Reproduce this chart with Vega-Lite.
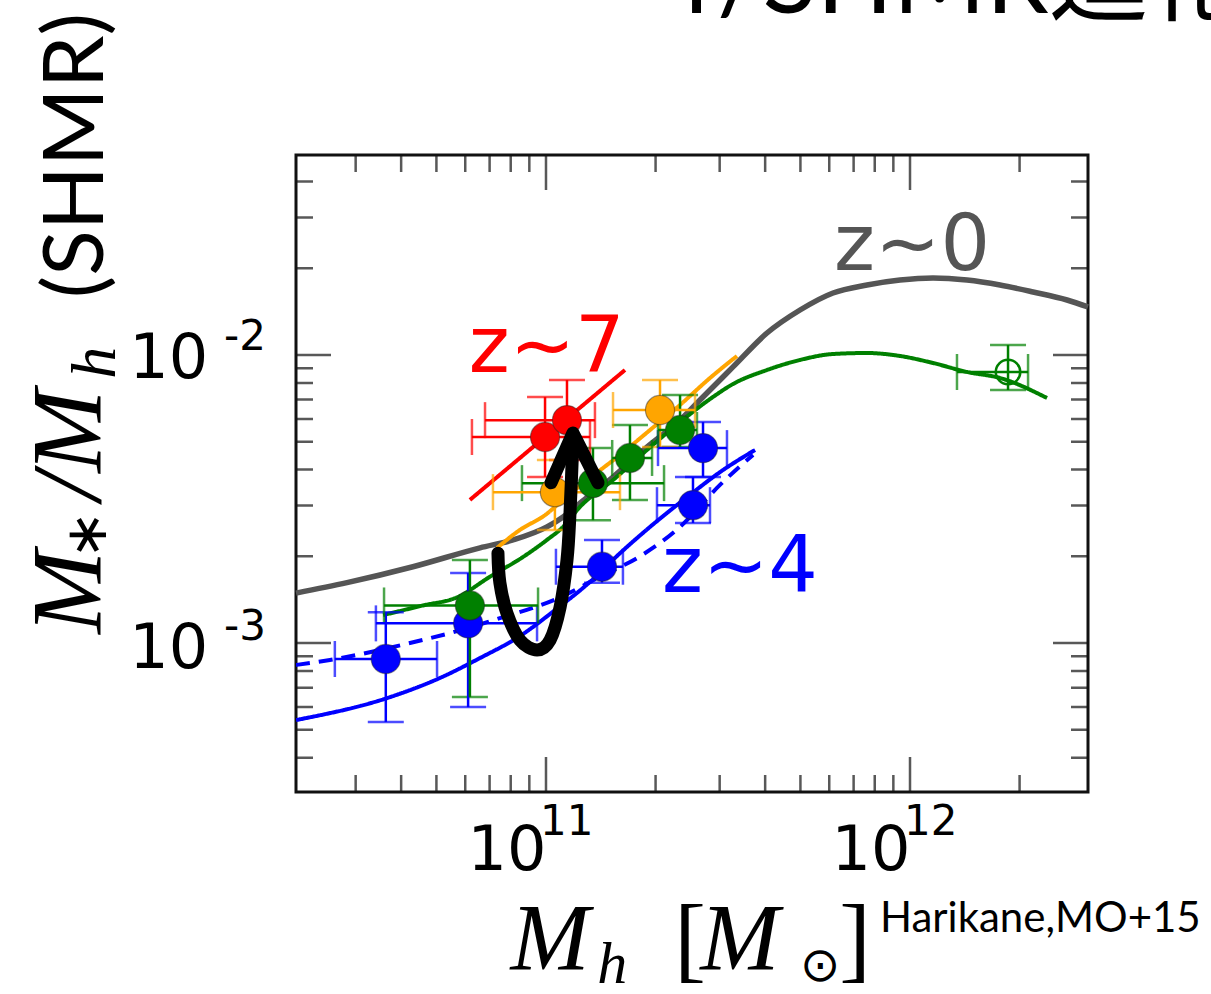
{
  "$schema": "https://vega.github.io/schema/vega-lite/v6.json",
  "width": 792,
  "height": 637,
  "autosize": {"type": "none"},
  "padding": {"left": 296, "top": 155, "right": 123, "bottom": 202},
  "background": "white",
  "config": {
    "view": {"stroke": "#111111", "strokeWidth": 3}
  },
  "datasets": {
    "curves": [
      {"z": "z~0", "model": "fit", "x": 2.057e10, "y": 1.49e-3},
      {"z": "z~0", "model": "fit", "x": 2.84e10, "y": 1.62e-3},
      {"z": "z~0", "model": "fit", "x": 4.31e10, "y": 1.84e-3},
      {"z": "z~0", "model": "fit", "x": 6.59e10, "y": 2.14e-3},
      {"z": "z~0", "model": "fit", "x": 8.12e10, "y": 2.28e-3},
      {"z": "z~0", "model": "fit", "x": 1.006e11, "y": 2.53e-3},
      {"z": "z~0", "model": "fit", "x": 1.114e11, "y": 2.74e-3},
      {"z": "z~0", "model": "fit", "x": 1.24e11, "y": 3.06e-3},
      {"z": "z~0", "model": "fit", "x": 1.528e11, "y": 3.77e-3},
      {"z": "z~0", "model": "fit", "x": 1.894e11, "y": 4.79e-3},
      {"z": "z~0", "model": "fit", "x": 2.335e11, "y": 5.94e-3},
      {"z": "z~0", "model": "fit", "x": 2.649e11, "y": 6.98e-3},
      {"z": "z~0", "model": "fit", "x": 3.264e11, "y": 9.09e-3},
      {"z": "z~0", "model": "fit", "x": 4.047e11, "y": 1.192e-2},
      {"z": "z~0", "model": "fit", "x": 4.988e11, "y": 1.433e-2},
      {"z": "z~0", "model": "fit", "x": 6.145e11, "y": 1.642e-2},
      {"z": "z~0", "model": "fit", "x": 7.619e11, "y": 1.75e-2},
      {"z": "z~0", "model": "fit", "x": 9.39e11, "y": 1.821e-2},
      {"z": "z~0", "model": "fit", "x": 1.157e12, "y": 1.851e-2},
      {"z": "z~0", "model": "fit", "x": 1.434e12, "y": 1.821e-2},
      {"z": "z~0", "model": "fit", "x": 1.767e12, "y": 1.75e-2},
      {"z": "z~0", "model": "fit", "x": 2.178e12, "y": 1.655e-2},
      {"z": "z~0", "model": "fit", "x": 2.7e12, "y": 1.552e-2},
      {"z": "z~0", "model": "fit", "x": 3.083e12, "y": 1.468e-2},
      {"z": "z~5", "model": "fit", "x": 3.57e10, "y": 1.25e-3},
      {"z": "z~5", "model": "fit", "x": 4.59e10, "y": 1.35e-3},
      {"z": "z~5", "model": "fit", "x": 5.69e10, "y": 1.44e-3},
      {"z": "z~5", "model": "fit", "x": 7.02e10, "y": 1.7e-3},
      {"z": "z~5", "model": "fit", "x": 8.65e10, "y": 1.99e-3},
      {"z": "z~5", "model": "fit", "x": 1.006e11, "y": 2.28e-3},
      {"z": "z~5", "model": "fit", "x": 1.114e11, "y": 2.53e-3},
      {"z": "z~5", "model": "fit", "x": 1.24e11, "y": 2.97e-3},
      {"z": "z~5", "model": "fit", "x": 1.528e11, "y": 3.68e-3},
      {"z": "z~5", "model": "fit", "x": 1.894e11, "y": 4.68e-3},
      {"z": "z~5", "model": "fit", "x": 2.335e11, "y": 5.85e-3},
      {"z": "z~5", "model": "fit", "x": 2.876e11, "y": 7.15e-3},
      {"z": "z~5", "model": "fit", "x": 3.264e11, "y": 7.93e-3},
      {"z": "z~5", "model": "fit", "x": 4.047e11, "y": 8.87e-3},
      {"z": "z~5", "model": "fit", "x": 4.988e11, "y": 9.61e-3},
      {"z": "z~5", "model": "fit", "x": 6.145e11, "y": 1.008e-2},
      {"z": "z~5", "model": "fit", "x": 7.619e11, "y": 1.016e-2},
      {"z": "z~5", "model": "fit", "x": 9.39e11, "y": 9.92e-3},
      {"z": "z~5", "model": "fit", "x": 1.157e12, "y": 9.38e-3},
      {"z": "z~5", "model": "fit", "x": 1.434e12, "y": 8.73e-3},
      {"z": "z~5", "model": "fit", "x": 1.767e12, "y": 8.32e-3},
      {"z": "z~5", "model": "fit", "x": 2.379e12, "y": 7.09e-3},
      {"z": "z~6", "model": "fit", "x": 7.34e10, "y": 2.14e-3},
      {"z": "z~6", "model": "fit", "x": 8.48e10, "y": 2.47e-3},
      {"z": "z~6", "model": "fit", "x": 9.94e10, "y": 2.78e-3},
      {"z": "z~6", "model": "fit", "x": 1.128e11, "y": 3.19e-3},
      {"z": "z~6", "model": "fit", "x": 1.321e11, "y": 3.74e-3},
      {"z": "z~6", "model": "fit", "x": 1.597e11, "y": 4.5e-3},
      {"z": "z~6", "model": "fit", "x": 1.931e11, "y": 5.49e-3},
      {"z": "z~6", "model": "fit", "x": 2.335e11, "y": 6.71e-3},
      {"z": "z~6", "model": "fit", "x": 2.822e11, "y": 8.32e-3},
      {"z": "z~6", "model": "fit", "x": 3.347e11, "y": 9.92e-3},
      {"z": "z~7", "model": "fit", "x": 6.18e10, "y": 3.14e-3},
      {"z": "z~7", "model": "fit", "x": 1.648e11, "y": 8.87e-3},
      {"z": "z~4", "model": "fit", "x": 2.057e10, "y": 5.4e-4},
      {"z": "z~4", "model": "fit", "x": 3.73e10, "y": 6.49e-4},
      {"z": "z~4", "model": "fit", "x": 5.11e10, "y": 7.56e-4},
      {"z": "z~4", "model": "fit", "x": 6.59e10, "y": 8.87e-4},
      {"z": "z~4", "model": "fit", "x": 8.48e10, "y": 1.057e-3},
      {"z": "z~4", "model": "fit", "x": 1.058e11, "y": 1.3e-3},
      {"z": "z~4", "model": "fit", "x": 1.321e11, "y": 1.63e-3},
      {"z": "z~4", "model": "fit", "x": 1.597e11, "y": 2.05e-3},
      {"z": "z~4", "model": "fit", "x": 1.931e11, "y": 2.53e-3},
      {"z": "z~4", "model": "fit", "x": 2.487e11, "y": 3.27e-3},
      {"z": "z~4", "model": "fit", "x": 3.006e11, "y": 3.92e-3},
      {"z": "z~4", "model": "fit", "x": 3.752e11, "y": 4.68e-3},
      {"z": "z~4", "model": "alt", "x": 2.057e10, "y": 8.39e-4},
      {"z": "z~4", "model": "alt", "x": 2.55e10, "y": 8.73e-4},
      {"z": "z~4", "model": "alt", "x": 4.23e10, "y": 1.0e-3},
      {"z": "z~4", "model": "alt", "x": 5.45e10, "y": 1.083e-3},
      {"z": "z~4", "model": "alt", "x": 7.47e10, "y": 1.22e-3},
      {"z": "z~4", "model": "alt", "x": 1.093e11, "y": 1.44e-3},
      {"z": "z~4", "model": "alt", "x": 1.407e11, "y": 1.7e-3},
      {"z": "z~4", "model": "alt", "x": 1.812e11, "y": 2.0e-3},
      {"z": "z~4", "model": "alt", "x": 2.335e11, "y": 2.53e-3},
      {"z": "z~4", "model": "alt", "x": 3.006e11, "y": 3.54e-3},
      {"z": "z~4", "model": "alt", "x": 3.705e11, "y": 4.5e-3}
    ],
    "pts": [
      {"z": "z~4", "src": "H15", "x": 3.63e10, "y": 8.8e-4, "xlo": 2.63e10, "xhi": 5.02e10, "ylo": 5.32e-4, "yhi": 1.28e-3},
      {"z": "z~4", "src": "H15", "x": 6.11e10, "y": 1.17e-3, "xlo": 3.41e10, "xhi": 9.45e10, "ylo": 5.99e-4, "yhi": 1.75e-3},
      {"z": "z~4", "src": "H15", "x": 1.425e11, "y": 1.84e-3, "xlo": 1.065e11, "xhi": 1.627e11, "ylo": 1.62e-3, "yhi": 2.28e-3},
      {"z": "z~4", "src": "H15", "x": 2.534e11, "y": 3.01e-3, "xlo": 2.018e11, "xhi": 2.822e11, "ylo": 2.61e-3, "yhi": 3.77e-3},
      {"z": "z~4", "src": "H15", "x": 2.7e11, "y": 4.75e-3, "xlo": 2.031e11, "xhi": 3.142e11, "ylo": 3.77e-3, "yhi": 5.85e-3},
      {"z": "z~5", "src": "H15", "x": 6.18e10, "y": 1.35e-3, "xlo": 3.59e10, "xhi": 9.51e10, "ylo": 6.49e-4, "yhi": 1.94e-3},
      {"z": "z~5", "src": "H15", "x": 1.346e11, "y": 3.59e-3, "xlo": 8.59e10, "xhi": 2.11e11, "ylo": 2.67e-3, "yhi": 4.75e-3},
      {"z": "z~5", "src": "H15", "x": 1.701e11, "y": 4.39e-3, "xlo": 1.52e11, "xhi": 1.956e11, "ylo": 3.14e-3, "yhi": 5.71e-3},
      {"z": "z~5", "src": "H15", "x": 2.335e11, "y": 5.49e-3, "xlo": 2.031e11, "xhi": 2.599e11, "ylo": 4.79e-3, "yhi": 7.26e-3},
      {"z": "z~5", "src": "local", "x": 1.859e12, "y": 8.73e-3, "xlo": 1.346e12, "xhi": 2.11e12, "ylo": 7.56e-3, "yhi": 1.083e-2},
      {"z": "z~6", "src": "H15", "x": 1.058e11, "y": 3.34e-3, "xlo": 7.15e10, "xhi": 1.597e11, "ylo": 2.47e-3, "yhi": 4.32e-3},
      {"z": "z~6", "src": "H15", "x": 2.057e11, "y": 6.44e-3, "xlo": 1.528e11, "xhi": 2.567e11, "ylo": 4.79e-3, "yhi": 8.19e-3},
      {"z": "z~7", "src": "H15", "x": 9.94e10, "y": 5.19e-3, "xlo": 6.26e10, "xhi": 1.321e11, "ylo": 3.77e-3, "yhi": 7.15e-3},
      {"z": "z~7", "src": "H15", "x": 1.142e11, "y": 5.94e-3, "xlo": 6.8e10, "xhi": 1.363e11, "ylo": 4.32e-3, "yhi": 8.19e-3}
    ],
    "arrow": [
      {"part": "stem", "i": 1, "x": 7.38e10, "y": 2.05e-3},
      {"part": "stem", "i": 2, "x": 7.47e10, "y": 1.62e-3},
      {"part": "stem", "i": 3, "x": 7.81e10, "y": 1.27e-3},
      {"part": "stem", "i": 4, "x": 8.48e10, "y": 1.024e-3},
      {"part": "stem", "i": 5, "x": 9.45e10, "y": 9.46e-4},
      {"part": "stem", "i": 6, "x": 1.026e11, "y": 1.024e-3},
      {"part": "stem", "i": 7, "x": 1.093e11, "y": 1.33e-3},
      {"part": "stem", "i": 8, "x": 1.142e11, "y": 1.94e-3},
      {"part": "stem", "i": 9, "x": 1.164e11, "y": 2.83e-3},
      {"part": "stem", "i": 10, "x": 1.186e11, "y": 5.07e-3},
      {"part": "head", "i": 1, "x": 1.032e11, "y": 3.6e-3},
      {"part": "head", "i": 2, "x": 1.186e11, "y": 5.36e-3},
      {"part": "head", "i": 3, "x": 1.39e11, "y": 3.6e-3}
    ],
    "xt": [
      {"v": 3e10, "kind": "minor"}, {"v": 4e10, "kind": "minor"}, {"v": 5e10, "kind": "minor"},
      {"v": 6e10, "kind": "minor"}, {"v": 7e10, "kind": "minor"}, {"v": 8e10, "kind": "minor"},
      {"v": 9e10, "kind": "minor"}, {"v": 1e11, "kind": "major"}, {"v": 2e11, "kind": "minor"},
      {"v": 3e11, "kind": "minor"}, {"v": 4e11, "kind": "minor"}, {"v": 5e11, "kind": "minor"},
      {"v": 6e11, "kind": "minor"}, {"v": 7e11, "kind": "minor"}, {"v": 8e11, "kind": "minor"},
      {"v": 9e11, "kind": "minor"}, {"v": 1e12, "kind": "major"}, {"v": 2e12, "kind": "minor"}
    ],
    "yt": [
      {"v": 4e-4, "kind": "minor"}, {"v": 5e-4, "kind": "minor"}, {"v": 6e-4, "kind": "minor"},
      {"v": 7e-4, "kind": "minor"}, {"v": 8e-4, "kind": "minor"}, {"v": 9e-4, "kind": "minor"},
      {"v": 1e-3, "kind": "major"}, {"v": 2e-3, "kind": "minor"}, {"v": 3e-3, "kind": "minor"},
      {"v": 4e-3, "kind": "minor"}, {"v": 5e-3, "kind": "minor"}, {"v": 6e-3, "kind": "minor"},
      {"v": 7e-3, "kind": "minor"}, {"v": 8e-3, "kind": "minor"}, {"v": 9e-3, "kind": "minor"},
      {"v": 1e-2, "kind": "major"}, {"v": 2e-2, "kind": "minor"}, {"v": 3e-2, "kind": "minor"},
      {"v": 4e-2, "kind": "minor"}
    ],
    "ticklabels": [
      {"part": "base", "text": "10", "x": 7.81e10, "y": 1.63e-4},
      {"part": "exp", "text": "11", "x": 1.14e11, "y": 2.154e-4},
      {"part": "base", "text": "10", "x": 7.81e11, "y": 1.63e-4},
      {"part": "exp", "text": "12", "x": 1.14e12, "y": 2.154e-4},
      {"part": "base", "text": "10", "x": 9.2e9, "y": 8.32e-3},
      {"part": "exp", "text": "-2", "x": 1.49e10, "y": 1.041e-2},
      {"part": "base", "text": "10", "x": 9.2e9, "y": 8.19e-4},
      {"part": "exp", "text": "-3", "x": 1.49e10, "y": 1.024e-3}
    ],
    "zlabels": [
      {"z": "z~0", "label": "z~0", "x": 1.013e12, "y": 1.973e-2},
      {"z": "z~7", "label": "z~7", "x": 1.005e11, "y": 8.73e-3},
      {"z": "z~4", "label": "z~4", "x": 3.41e11, "y": 1.5e-3}
    ]
  },
  "layer": [
    {
      "data": {"name": "curves"},
      "transform": [{"filter": "datum.z === 'z~0'"}],
      "mark": {"type": "line", "strokeWidth": 5.5, "interpolate": "monotone"},
      "encoding": {
        "x": {"field": "x", "type": "quantitative", "scale": {"type": "log", "domain": [2.057e10, 3.083e12], "nice": false}, "axis": null},
        "y": {"field": "y", "type": "quantitative", "scale": {"type": "log", "domain": [3.039e-4, 0.04947], "nice": false}, "axis": null},
        "color": {"field": "z", "type": "nominal", "scale": {"domain": ["z~0", "z~4", "z~5", "z~6", "z~7"], "range": ["#555555", "#0000ff", "#008000", "#ffa500", "#ff0000"]}, "legend": null}
      }
    },
    {
      "data": {"name": "curves"},
      "transform": [{"filter": "datum.z !== 'z~0'"}],
      "mark": {"type": "line", "strokeWidth": 4, "interpolate": "monotone", "clip": true},
      "encoding": {
        "x": {"field": "x", "type": "quantitative", "axis": null},
        "y": {"field": "y", "type": "quantitative", "axis": null},
        "color": {"field": "z", "type": "nominal", "legend": null},
        "strokeDash": {"field": "model", "type": "nominal", "scale": {"domain": ["fit", "alt"], "range": [[1, 0], [14, 9]]}, "legend": null}
      }
    },
    {
      "data": {"name": "pts"},
      "mark": {"type": "errorbar", "ticks": true, "size": 36, "thickness": 2.5},
      "encoding": {
        "x": {"field": "x", "type": "quantitative", "axis": null},
        "y": {"field": "ylo", "type": "quantitative", "axis": null},
        "y2": {"field": "yhi"},
        "color": {"field": "z", "type": "nominal", "legend": null}
      }
    },
    {
      "data": {"name": "pts"},
      "mark": {"type": "errorbar", "ticks": true, "size": 36, "thickness": 2.5},
      "encoding": {
        "y": {"field": "y", "type": "quantitative", "axis": null},
        "x": {"field": "xlo", "type": "quantitative", "axis": null},
        "x2": {"field": "xhi"},
        "color": {"field": "z", "type": "nominal", "legend": null}
      }
    },
    {
      "data": {"name": "pts"},
      "transform": [{"filter": "datum.src === 'H15'"}],
      "mark": {"type": "point", "shape": "circle", "filled": true, "size": 850, "opacity": 1, "stroke": "#222222", "strokeWidth": 1.2, "strokeOpacity": 0.45},
      "encoding": {
        "x": {"field": "x", "type": "quantitative", "axis": null},
        "y": {"field": "y", "type": "quantitative", "axis": null},
        "fill": {"field": "z", "type": "nominal", "scale": {"domain": ["z~0", "z~4", "z~5", "z~6", "z~7"], "range": ["#555555", "#0000ff", "#008000", "#ffa500", "#ff0000"]}, "legend": null}
      }
    },
    {
      "data": {"name": "pts"},
      "transform": [{"filter": "datum.src === 'local'"}],
      "mark": {"type": "point", "shape": "circle", "filled": false, "size": 600, "strokeWidth": 2.5, "opacity": 1},
      "encoding": {
        "x": {"field": "x", "type": "quantitative", "axis": null},
        "y": {"field": "y", "type": "quantitative", "axis": null},
        "color": {"field": "z", "type": "nominal", "legend": null}
      }
    },
    {
      "data": {"name": "arrow"},
      "transform": [{"filter": "datum.part === 'stem'"}],
      "mark": {"type": "line", "color": "#000000", "strokeWidth": 13, "strokeCap": "round", "strokeJoin": "round", "interpolate": "cardinal"},
      "encoding": {
        "x": {"field": "x", "type": "quantitative", "axis": null},
        "y": {"field": "y", "type": "quantitative", "axis": null},
        "order": {"field": "i", "type": "quantitative"}
      }
    },
    {
      "data": {"name": "arrow"},
      "transform": [{"filter": "datum.part === 'head'"}],
      "mark": {"type": "line", "color": "#000000", "strokeWidth": 13, "strokeCap": "round", "strokeJoin": "round"},
      "encoding": {
        "x": {"field": "x", "type": "quantitative", "axis": null},
        "y": {"field": "y", "type": "quantitative", "axis": null},
        "order": {"field": "i", "type": "quantitative"}
      }
    },
    {
      "data": {"name": "xt"},
      "mark": {"type": "tick", "orient": "vertical", "clip": true, "thickness": 2.5, "color": "#111111"},
      "encoding": {
        "x": {"field": "v", "type": "quantitative", "axis": null},
        "y": {"datum": 3.039e-4, "type": "quantitative", "axis": null},
        "size": {"field": "kind", "type": "nominal", "scale": {"domain": ["major", "minor"], "range": [70, 34]}, "legend": null}
      }
    },
    {
      "data": {"name": "xt"},
      "mark": {"type": "tick", "orient": "vertical", "clip": true, "thickness": 2.5, "color": "#111111"},
      "encoding": {
        "x": {"field": "v", "type": "quantitative", "axis": null},
        "y": {"datum": 0.04947, "type": "quantitative", "axis": null},
        "size": {"field": "kind", "type": "nominal", "legend": null}
      }
    },
    {
      "data": {"name": "yt"},
      "mark": {"type": "tick", "orient": "horizontal", "clip": true, "thickness": 2.5, "color": "#111111"},
      "encoding": {
        "y": {"field": "v", "type": "quantitative", "axis": null},
        "x": {"datum": 2.057e10, "type": "quantitative", "axis": null},
        "size": {"field": "kind", "type": "nominal", "legend": null}
      }
    },
    {
      "data": {"name": "yt"},
      "mark": {"type": "tick", "orient": "horizontal", "clip": true, "thickness": 2.5, "color": "#111111"},
      "encoding": {
        "y": {"field": "v", "type": "quantitative", "axis": null},
        "x": {"datum": 3.083e12, "type": "quantitative", "axis": null},
        "size": {"field": "kind", "type": "nominal", "legend": null}
      }
    },
    {
      "data": {"name": "ticklabels"},
      "transform": [{"filter": "datum.part === 'base'"}],
      "mark": {"type": "text", "font": "DejaVu Sans", "fontSize": 62, "align": "center", "baseline": "alphabetic", "color": "#000000"},
      "encoding": {
        "x": {"field": "x", "type": "quantitative", "axis": null},
        "y": {"field": "y", "type": "quantitative", "axis": null},
        "text": {"field": "text", "type": "nominal"}
      }
    },
    {
      "data": {"name": "ticklabels"},
      "transform": [{"filter": "datum.part === 'exp'"}],
      "mark": {"type": "text", "font": "DejaVu Sans", "fontSize": 42, "align": "center", "baseline": "alphabetic", "color": "#000000"},
      "encoding": {
        "x": {"field": "x", "type": "quantitative", "axis": null},
        "y": {"field": "y", "type": "quantitative", "axis": null},
        "text": {"field": "text", "type": "nominal"}
      }
    },
    {
      "data": {"name": "zlabels"},
      "mark": {"type": "text", "font": "DejaVu Sans", "fontSize": 78, "align": "center", "baseline": "alphabetic"},
      "encoding": {
        "x": {"field": "x", "type": "quantitative", "axis": null},
        "y": {"field": "y", "type": "quantitative", "axis": null},
        "text": {"field": "label", "type": "nominal"},
        "color": {"field": "z", "type": "nominal", "legend": null}
      }
    },
    {
      "data": {"values": [{}]},
      "layer": [
        {"mark": {"type": "text", "font": "Liberation Serif", "fontStyle": "italic", "fontSize": 100, "angle": 270, "align": "center", "baseline": "alphabetic", "color": "#000000", "text": "M"},
         "encoding": {"x": {"datum": 5.95e9, "type": "quantitative", "axis": null}, "y": {"datum": 1.503e-3, "type": "quantitative", "axis": null}}},
        {"mark": {"type": "text", "font": "DejaVu Sans", "fontSize": 58, "angle": 270, "align": "center", "baseline": "alphabetic", "color": "#000000", "text": "∗"},
         "encoding": {"x": {"datum": 6.18e9, "type": "quantitative", "axis": null}, "y": {"datum": 2.371e-3, "type": "quantitative", "axis": null}}},
        {"mark": {"type": "text", "font": "Liberation Serif", "fontStyle": "italic", "fontSize": 100, "angle": 270, "align": "center", "baseline": "alphabetic", "color": "#000000", "text": "/M"},
         "encoding": {"x": {"datum": 5.95e9, "type": "quantitative", "axis": null}, "y": {"datum": 4.87e-3, "type": "quantitative", "axis": null}}},
        {"mark": {"type": "text", "font": "Liberation Serif", "fontStyle": "italic", "fontSize": 64, "angle": 270, "align": "center", "baseline": "alphabetic", "color": "#000000", "text": "h"},
         "encoding": {"x": {"datum": 6.55e9, "type": "quantitative", "axis": null}, "y": {"datum": 9.4e-3, "type": "quantitative", "axis": null}}},
        {"mark": {"type": "text", "font": "Lato", "fontSize": 84, "angle": 270, "align": "center", "baseline": "alphabetic", "color": "#000000", "text": "(SHMR)"},
         "encoding": {"x": {"datum": 6.07e9, "type": "quantitative", "axis": null}, "y": {"datum": 0.0492, "type": "quantitative", "axis": null}}},
        {"mark": {"type": "text", "font": "Liberation Serif", "fontStyle": "italic", "fontSize": 95, "align": "center", "baseline": "alphabetic", "color": "#000000", "text": "M"},
         "encoding": {"x": {"datum": 1.026e11, "type": "quantitative", "axis": null}, "y": {"datum": 7.32e-5, "type": "quantitative", "axis": null}}},
        {"mark": {"type": "text", "font": "Liberation Serif", "fontStyle": "italic", "fontSize": 60, "align": "center", "baseline": "alphabetic", "color": "#000000", "text": "h"},
         "encoding": {"x": {"datum": 1.52e11, "type": "quantitative", "axis": null}, "y": {"datum": 6.6e-5, "type": "quantitative", "axis": null}}},
        {"mark": {"type": "text", "font": "Liberation Serif", "fontSize": 95, "align": "center", "baseline": "alphabetic", "color": "#000000", "text": "["},
         "encoding": {"x": {"datum": 2.487e11, "type": "quantitative", "axis": null}, "y": {"datum": 7.32e-5, "type": "quantitative", "axis": null}}},
        {"mark": {"type": "text", "font": "Liberation Serif", "fontStyle": "italic", "fontSize": 95, "align": "center", "baseline": "alphabetic", "color": "#000000", "text": "M"},
         "encoding": {"x": {"datum": 3.41e11, "type": "quantitative", "axis": null}, "y": {"datum": 7.32e-5, "type": "quantitative", "axis": null}}},
        {"mark": {"type": "text", "font": "DejaVu Sans", "fontSize": 48, "align": "center", "baseline": "alphabetic", "color": "#000000", "text": "⊙"},
         "encoding": {"x": {"datum": 5.66e11, "type": "quantitative", "axis": null}, "y": {"datum": 6.7e-5, "type": "quantitative", "axis": null}}},
        {"mark": {"type": "text", "font": "Liberation Serif", "fontSize": 95, "align": "center", "baseline": "alphabetic", "color": "#000000", "text": "]"},
         "encoding": {"x": {"datum": 7.06e11, "type": "quantitative", "axis": null}, "y": {"datum": 7.32e-5, "type": "quantitative", "axis": null}}},
        {"mark": {"type": "text", "font": "Lato", "fontSize": 42, "align": "left", "baseline": "alphabetic", "color": "#000000", "text": "Harikane,MO+15"},
         "encoding": {"x": {"datum": 8.27e11, "type": "quantitative", "axis": null}, "y": {"datum": 9.92e-5, "type": "quantitative", "axis": null}}},
        {"mark": {"type": "text", "font": "Lato, Noto Sans CJK JP", "fontSize": 100, "align": "left", "baseline": "alphabetic", "color": "#000000", "text": "r/SHMR進化"},
         "encoding": {"x": {"datum": 2.41e11, "type": "quantitative", "axis": null}, "y": {"datum": 0.154, "type": "quantitative", "axis": null}}}
      ]
    }
  ]
}
